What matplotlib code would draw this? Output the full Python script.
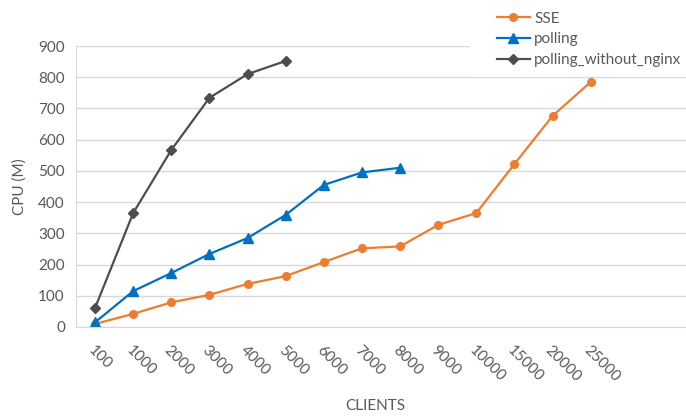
import matplotlib
matplotlib.use("Agg")
import matplotlib.pyplot as plt
from matplotlib.patches import Rectangle

plt.rcParams['font.family'] = ['Lato', 'DejaVu Sans']

categories = ["100", "1000", "2000", "3000", "4000", "5000", "6000", "7000",
              "8000", "9000", "10000", "15000", "20000", "25000", "", ""]
sse = [10, 42, 79, 103, 138, 163, 208, 252, 258, 327, 365, 522, 676, 785]
polling = [15, 115, 173, 234, 285, 359, 455, 495, 510]
polling_without_nginx = [61, 365, 567, 734, 810, 852]

W, H = 686, 417
fig = plt.figure(figsize=(W / 100, H / 100), dpi=100)
ax = fig.add_axes([76 / W, 1 - 327 / H, (W - 76) / W, (327 - 46) / H])

x = list(range(len(categories)))
ax.plot(x[:len(sse)], sse, color='#ED7D31', lw=1.6, marker='o', ms=5.5, label='SSE')
ax.plot(x[:len(polling)], polling, color='#0070C0', lw=1.6, marker='^', ms=7, label='polling')
ax.plot(x[:len(polling_without_nginx)], polling_without_nginx, color='#4D4D4D', lw=1.6,
        marker='D', ms=5, label='polling_without_nginx')

ax.set_xlim(-0.5, len(categories) - 0.5)
ax.set_ylim(0, 900)
ax.set_yticks(range(0, 901, 100))
ax.set_xticks(x)
ax.set_xticklabels(categories, rotation=-45, ha='left', va='top', rotation_mode='anchor')
ax.grid(axis='y', color='#D9D9D9', lw=1)
ax.set_axisbelow(True)
for s in ['top', 'right']:
    ax.spines[s].set_visible(False)
ax.spines['left'].set_color('#D9D9D9')
ax.spines['bottom'].set_color('#D9D9D9')
ax.tick_params(axis='both', length=0, colors='#595959', labelsize=11)
ax.tick_params(axis='x', pad=12)
ax.tick_params(axis='y', pad=8)
ax.set_xlabel('CLIENTS', color='#595959', fontsize=11)
ax.xaxis.set_label_coords(0.49, -0.255)
ax.set_ylabel('CPU (M)', color='#595959', fontsize=11)
ax.yaxis.set_label_coords(-0.08, 0.5)

# white legend area
fig.patches.append(Rectangle((470 / W, 1 - 77 / H), (W - 470) / W, 77 / H,
                             transform=fig.transFigure, facecolor='white',
                             edgecolor='none', zorder=2))

leg = fig.legend(loc='upper left', bbox_to_anchor=(492 / W, 1 - 7 / H), frameon=False,
                 fontsize=11, handlelength=2.2, handletextpad=0.25, labelspacing=0.45,
                 borderpad=0.3, borderaxespad=0)
leg.set_zorder(3)
for t in leg.get_texts():
    t.set_color('#595959')

fig.savefig('out.png', dpi=100)
